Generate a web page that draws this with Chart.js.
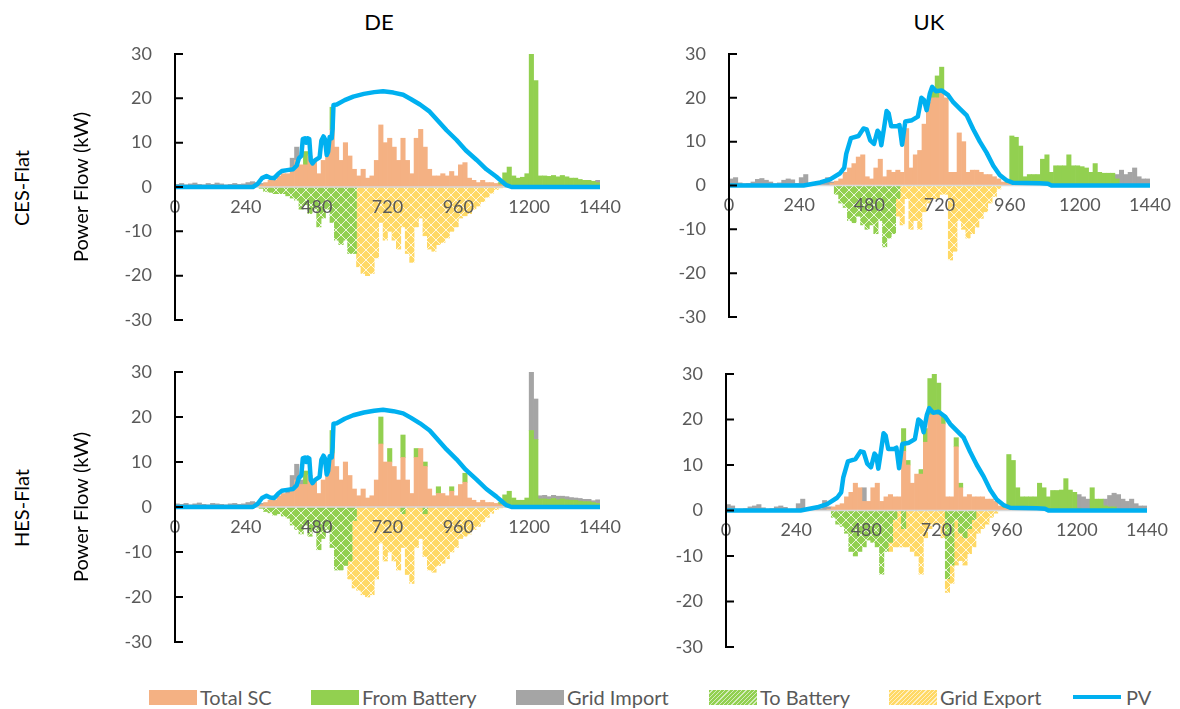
<!DOCTYPE html>
<html>
<head>
<meta charset="utf-8">
<script src="https://cdn.jsdelivr.net/npm/chart.js@4.4.1/dist/chart.umd.min.js"></script>
<style>
  body { margin: 0; background: #fff; width: 1180px; height: 709px; position: relative; overflow: hidden; font-family: Lato, 'Open Sans', sans-serif; }
  canvas { position: absolute; }
  .col-title { position: absolute; top: 10px; font-size: 22px; line-height: 24px; color: #000; transform: translateX(-50%); }
  .row-title { position: absolute; font-size: 20px; color: #000; white-space: nowrap; transform: translate(-50%, -50%) rotate(-90deg); }
  .item { position: absolute; top: 686px; height: 22px; display: flex; align-items: center; font-size: 20px; color: #595959; white-space: nowrap; }
  .sw { width: 48px; height: 15px; margin-right: 3px; }
  .sw.line { height: 4px; background: #00B0F0; margin-right: 5px; }
</style>
</head>
<body>

<div class="col-title" style="left:379px">DE</div>
<div class="col-title" style="left:929px">UK</div>
<div class="row-title" style="left:21px; top:188px">CES-Flat</div>
<div class="row-title" style="left:21px; top:508px">HES-Flat</div>

<canvas id="deCes" width="564" height="294" style="left:66px; top:40px"></canvas>
<canvas id="ukCes" width="511" height="291" style="left:669px; top:40px"></canvas>
<canvas id="deHes" width="564" height="298" style="left:66px; top:358px"></canvas>
<canvas id="ukHes" width="511" height="301" style="left:666px; top:360px"></canvas>

<div class="item" style="left:149px"><div class="sw" style="background:#F4B183"></div>Total SC</div>
<div class="item" style="left:311px"><div class="sw" style="background:#92D050"></div>From Battery</div>
<div class="item" style="left:516px"><div class="sw" style="background:#A5A5A5"></div>Grid Import</div>
<div class="item" style="left:709px"><div class="sw" style="background:repeating-linear-gradient(135deg,#92D050 0 2px,#d4ecbc 2px 3px)"></div>To Battery</div>
<div class="item" style="left:889px"><div class="sw" style="background:repeating-linear-gradient(135deg,#FFD966 0 2px,#fff0c4 2px 3px)"></div>Grid Export</div>
<div class="item" style="left:1073px"><div class="sw line"></div>PV</div>

<script>
// ---- axes ----
const xTicks = [0, 240, 480, 720, 960, 1200, 1440];
const yTicks = [-30, -20, -10, 0, 10, 20, 30];
const BIN = 15; // minutes per bar

// ---- PV (minute, kW) ----
const pvDeMin = [0, 264, 280, 295, 310, 322, 336, 350, 362, 380, 400, 412, 420, 428, 433, 440, 445, 449, 455, 460, 466, 474, 490, 496, 503, 508, 514, 519, 524, 531, 534, 537, 548, 575, 604, 640, 675, 705, 740, 773, 800, 830, 863, 890, 920, 954, 985, 1022, 1055, 1089, 1110, 1123, 1140, 1440];
const pvDeVal = [0, 0, 0.7, 2, 2.5, 2.1, 2, 3, 3.6, 3.8, 4, 4.8, 6.5, 7, 10.8, 11, 10, 11, 10.8, 6, 5.3, 6, 6.7, 10.5, 11.4, 10.8, 7.2, 8, 11.3, 11, 13.2, 18.5, 18.6, 19.6, 20.4, 21, 21.4, 21.6, 21.3, 20.8, 19.8, 18.6, 17, 15, 12.8, 10.6, 8.3, 6.1, 4, 2.3, 1.1, 0.4, 0, 0];
const pvUkMin = [0, 255, 312, 346, 380, 394, 401, 417, 443, 460, 471, 483, 496, 508, 514, 521, 530, 539, 546, 555, 574, 583, 592, 603, 626, 646, 658, 667, 676, 687, 695, 708, 727, 750, 767, 790, 813, 835, 858, 881, 904, 926, 949, 972, 1063, 1091, 1103, 1440];
const pvUkVal = [0, 0, 0.7, 1.4, 2.8, 4, 7.2, 10.8, 11.3, 13, 12.8, 10.3, 9.5, 12.5, 12, 9.2, 13, 17, 16.5, 13.5, 13.5, 13.8, 9.3, 14.6, 14.9, 15.7, 20, 19.5, 17.2, 21, 22.5, 21.5, 21.7, 20.6, 19, 17.5, 16, 12.9, 10, 7.5, 4.5, 2.4, 1.2, 0.6, 0.5, 0.4, 0, 0];

// ---- DE, CES-Flat (15-min bars, kW) ----
const deCesSC = [
  0,0,0,0,0,0,0,0,0,0,0,0,
  0,0,0,0,0,0,0,0.5,1,1.5,1.5,2.5,
  3,3,4.5,6,5,5,7,6,3,6,8,13,
  9,6,10,7,4,2.5,4,2,2.5,6,14,10,
  11,9,6,11,6,3,11,13,9,4,2.5,2.5,
  3,2.5,3.5,2.5,5,5.5,2,1.5,1,1.5,1,1,
  0.8,0.5,0.2,0,0,0,0,0,0,0,0,0,
  0,0,0,0,0,0,0,0,0,0,0,0];
const deCesBat = [
  0,0,0,0,0,0,0,0,0,0,0,0,
  0,0,0,0,0,0,0,0,0,0,0,0,
  0,0,0,0,0,3,0,0,0,0,0,5,
  0,0,0,0,0,0,0,0,0,0,0,0,
  0,0,0,0,0,0,0,0,0,0,0,0,
  0,0,0,0,0,0,0,0,0,0,0,0,
  0,0.5,3,4.5,2.5,2,2.2,3,30,24,2.5,2.5,
  2.4,2.6,2.3,2.6,2.3,2,2,1.7,1.5,1.5,1.3,1];
const deCesImp = [
  0.6,0.8,0.5,0.7,0.9,0.6,0.5,0.8,0.6,0.9,0.7,0.5,
  0.6,0.8,0.6,0.7,1,1.2,1,0.3,0,0,0,0,
  0,0,2,3,0,0,0,0,0,0,0,0,
  0,0,0,0,0,0,0,0,0,0,0,0,
  0,0,0,0,0,0,0,0,0,0,0,0,
  0,0,0,0,0,0,0,0,0,0,0,0,
  0,0,0,0,0,0,0,0,0,0,0,0,
  0,0,0,0,0,0,0,0,0,0,0,0.5];
const deCesToBat = [
  0,0,0,0,0,0,0,0,0,0,0,0,
  0,0,0,0,0,0,0,-0.3,-1,-1.2,-1.5,-1.5,
  -1.5,-2,-2.5,-3,-5,-4,-6,-5,-9,-7,-5,-8,
  -12,-13,-12,-15,-15,0,0,0,0,0,0,0,
  0,0,0,0,0,0,0,0,0,0,0,0,
  0,0,0,0,0,0,0,0,0,0,0,0,
  0,0,0,0,0,0,0,0,0,0,0,0,
  0,0,0,0,0,0,0,0,0,0,0,0];
const deCesExp = [
  0,0,0,0,0,0,0,0,0,0,0,0,
  0,0,0,0,0,0,0,0,0,0,0,0,
  0,0,0,0,0,0,0,0,0,0,0,0,
  0,0,0,0,0,-18,-19.5,-20,-19.5,-16,-8,-12,
  -10,-12,-14,-9,-15,-17,-9,-7,-11,-14,-14.5,-13,
  -12.5,-11.5,-10,-9,-7,-6.5,-6,-5,-4.3,-3.3,-2.3,-1.4,
  -0.6,-0.2,0,0,0,0,0,0,0,0,0,0,
  0,0,0,0,0,0,0,0,0,0,0,0];

// ---- DE, HES-Flat ----
const deHesSC = [
  0,0,0,0,0,0,0,0,0,0,0,0,
  0,0,0,0,0,0,0,0.5,1,1.5,1.5,2.5,
  3,3,4,6,5,5,7,6,3,6,8,12,
  9,6,10,7,4,2.5,4,2,2.5,6,14,10,
  10,9,6,11,6,3,11,13,9,4,2.5,3,
  3,2.5,3.5,2.5,5,5.5,2,1.5,1,1.5,1,1,
  0.8,0.5,0.2,0,0,0,0,0,0,0,0,0,
  0,0,0,0,0,0,0,0,0,0,0,0];
const deHesBat = [
  0,0,0,0,0,0,0,0,0,0,0,0,
  0,0,0,0,0,0,0,0,0,0,0,0,
  0,0,0,0,0,3,0,0,0,0,0,5,
  0,0,0,0,0,0,0,0,0,0,6,0,
  3,0,0,5,0,0,2,0,1,0,0,1.5,
  0,0,1,0,0,2,0,0,0,0,0,0,
  0,0.5,2.5,3.5,2,1.5,1.5,2,17,15,1.8,1.8,
  1.7,1.9,1.6,1.8,1.6,1.5,1.5,1.3,1.2,1.2,1,0.8];
const deHesImp = [
  0.7,0.6,0.8,0.5,0.7,0.9,0.6,0.5,0.8,0.7,0.6,0.5,
  0.7,0.8,0.6,0.7,1,1.2,1,0.3,0,0,0,0,
  0,1,3,3.5,1,0,0,0,0,0,0,0,
  0,0,0,0,0,0,0,0,0,0,0,0,
  0,0,0,0,0,0,0,0,0,0,0,0,
  0,0,0,0,0,0,0,0,0,0,0,0,
  0,0,0,0,0,0,0,0,13,9,0.7,0.8,
  0.6,0.7,0.8,0.6,0.7,0.6,0.5,0.6,0.5,0.5,0.4,0.8];
const deHesToBat = [
  0,0,0,0,0,0,0,0,0,0,0,0,
  0,0,0,0,0,0,0,-0.3,-1,-1.3,-1.8,-1.5,
  -2,-2.5,-4,-5,-6,-4,-6.5,-5,-9.5,-7,-5,-9,
  -14,-14,-13,-12,-3,0,0,0,0,0,0,0,
  0,0,0,-1.5,0,0,0,0,-1.5,0,0,0,
  0,0,0,0,0,0,0,0,0,0,0,0,
  0,0,0,0,0,0,0,0,0,0,0,0,
  0,0,0,0,0,0,0,0,0,0,0,0];
const deHesExp = [
  0,0,0,0,0,0,0,0,0,0,0,0,
  0,0,0,0,0,0,0,0,0,0,0,0,
  0,0,0,0,0,0,0,0,0,0,0,0,
  0,0,0,-4,-15,-18.5,-19.5,-20,-19.5,-16,-8,-12,
  -10,-12,-14,-7.5,-15,-17,-9,-7,-9.5,-14,-14.5,-13,
  -12.5,-11.5,-10,-9,-7,-6.5,-6,-5,-4.3,-3.3,-2.3,-1.4,
  -0.6,-0.2,0,0,0,0,0,0,0,0,0,0,
  0,0,0,0,0,0,0,0,0,0,0,0];

// ---- UK, CES-Flat ----
const ukCesSC = [
  0,0,0,0,0,0,0,0,0,0,0,0,
  0,0,0,0,0,0,0,0,0,0,0,0.5,
  1,1.5,3,4,5,6.5,7,2,1.5,4,6,2,
  3.5,3,3.5,3,13,4,7,8,14,19,20,20,
  21,20,3,3,12,10,3,3.5,3.5,3,2.5,2.5,
  2,1.5,0.8,0.5,0.3,0,0,0,0,0,0,0,
  0,0,0,0,0,0,0,0,0,0,0,0,
  0,0,0,0,0,0,0,0,0,0,0,0];
const ukCesBat = [
  0,0,0,0,0,0,0,0,0,0,0,0,
  0,0,0,0,0,0,0,0,0,0,0,0,
  0,0,0,0,0,0,0,0,0,0,0,0,
  0,0,0,0,0,0,0,0,0,0,2,5,
  6,0,0,0,0,0,0,0,0,0,0,0,
  0,0,0,0.5,11,11,9,2,2.5,2.5,2.5,6,
  7,3,4.5,4.5,4.5,7,4.5,4.5,4.3,4,3,5,
  3,2.8,2.8,2.8,1.5,0,0,0,0,0,0,0];
const ukCesImp = [
  1.5,1.8,0.6,0.4,0.5,0.8,1.4,1.6,1.2,0.8,0.4,0.6,
  1.2,1.5,1.3,0.5,1.8,2.5,0.5,0.4,0.5,0.6,1.8,0.3,
  0,0,0,0,0,0,0,0,0,0,0,0,
  0,0,0,0,0,0,0,0,0,0,0,0,
  0,0,0,0,0,0,0,0,0,0,0,0,
  0,0,0,0,0,0,0,0,0,0,0,0,
  0,0,0,0,0,0,0,0,0,0,0,0,
  0,0,0,0,1,3.5,2.5,3,4,2,1.5,1.5];
const ukCesToBat = [
  0,0,0,0,0,0,0,0,0,0,0,0,
  0,0,0,0,0,0,0,0,0,0,0,0,
  -2,-4,-5,-8,-8.5,-7,-9,-10,-9,-11,-8,-14,
  -12,-11,-3,0,0,0,0,0,0,0,0,0,
  0,0,0,0,0,0,0,0,0,0,0,0,
  0,0,0,0,0,0,0,0,0,0,0,0,
  0,0,0,0,0,0,0,0,0,0,0,0,
  0,0,0,0,0,0,0,0,0,0,0,0];
const ukCesExp = [
  0,0,0,0,0,0,0,0,0,0,0,0,
  0,0,0,0,0,0,0,0,0,0,0,0,
  0,0,0,0,0,0,0,0,0,0,0,0,
  0,0,-4,-9,-3,-10,-8,-10,-6,-4,-3,-3,
  -2,-2,-17,-15,-8,-10,-12,-11,-9.5,-7.5,-6,-4,
  -2.5,-0.8,0,0,0,0,0,0,0,0,0,0,
  0,0,0,0,0,0,0,0,0,0,0,0,
  0,0,0,0,0,0,0,0,0,0,0,0];

// ---- UK, HES-Flat ----
const ukHesSC = [
  0,0,0,0,0,0,0,0,0,0,0,0,
  0,0,0,0,0,0,0,0,0,0,0,0.3,
  0.8,1.2,1.5,3,4,6,5,2,2,5,6,2,
  3,3.5,3,3,13,10,6,8,8,15,21,22,
  21,19,3,3,14,5,3,3.5,3,3,3,2.5,
  2.5,2,1,0.5,0.3,0,0,0,0,0,0,0,
  0,0,0,0,0,0,0,0,0,0,0,0,
  0,0,0,0,0,0,0,0,0,0,0,0];
const ukHesBat = [
  0,0,0,0,0,0,0,0,0,0,0,0,
  0,0,0,0,0,0,0,0,0,0,0,0,
  0,0,0,0,0,0,0,0,0,0,0,0,
  0,0,0,0,5,1,0,0,1,3,8,8,
  7,2,0,0,2,1,0,0,0,0,0,0,
  0,0,0,0.5,12,11,5,3,3,3,3,6,
  5,3,4.4,4.4,4.5,7,4.5,4,0.5,0,0,5,
  2.5,2.5,1,0.8,0.8,0,0,0,0,0,0,0];
const ukHesImp = [
  1.3,1,0.3,0.3,0.4,0.8,1,1.3,0.6,0.3,0.4,0.8,
  1,0.7,0.3,0.3,1.5,2.5,0.4,0.3,0.4,0.4,2.2,0.5,
  0,0,0,0,0,0,0,3,0,0,0,0,
  0,0,0,0,0,0,0,0,0,0,0,0,
  0,0,0,0,0,0,0,0,0,0,0,0,
  0,0,0,0,0,0,0,0,0,0,0,0,
  0,0,0,0,0,0,0,0,3,3,2.5,0,
  0,0,1.5,2.5,3,3.5,2.5,2,2.5,1.5,1,1];
const ukHesToBat = [
  0,0,0,0,0,0,0,0,0,0,0,0,
  0,0,0,0,0,0,0,0,0,0,0,0,
  -1.5,-3,-3.5,-5,-9,-10,-9,-8,-6.5,-7,-8,-14,
  -9,-7,-2,0,-4,0,0,0,0,0,0,0,
  0,0,-15,-12,-2,-5,-6,-4,-2,0,0,0,
  0,0,0,0,0,0,0,0,0,0,0,0,
  0,0,0,0,0,0,0,0,0,0,0,0,
  0,0,0,0,0,0,0,0,0,0,0,0];
const ukHesExp = [
  0,0,0,0,0,0,0,0,0,0,0,0,
  0,0,0,0,0,0,0,0,0,0,0,0,
  0,0,0,0,0,0,0,0,0,0,0,0,
  0,-2,-6,-8,-4,-8,-9,-10,-14,-6,-4,-3,
  -3,-6,-3,-4,-10,-6,-6,-5.5,-6,-5,-4,-3,
  -1.5,-0.6,0,0,0,0,0,0,0,0,0,0,
  0,0,0,0,0,0,0,0,0,0,0,0,
  0,0,0,0,0,0,0,0,0,0,0,0];

// ═══════════ PATTERNS ═══════════
function makeHatch(base) {
  const c = document.createElement('canvas');
  c.width = 10; c.height = 10;
  const g = c.getContext('2d');
  g.fillStyle = base;
  g.fillRect(0, 0, 10, 10);
  g.strokeStyle = 'rgba(255,255,255,0.8)';
  g.lineWidth = 1;
  g.beginPath();
  g.moveTo(-2, -2); g.lineTo(12, 12);
  g.moveTo(12, -2); g.lineTo(-2, 12);
  g.stroke();
  return g.createPattern(c, 'repeat');
}
const hatchGreen = makeHatch('#92D050');
const hatchYellow = makeHatch('#FFD966');

// zero line under the PV curve, y axis with inside tick marks on top
const axisMarks = {
  id: 'axisMarks',
  beforeDatasetDraw(chart, args) {
    if (args.meta.type !== 'line') return;
    const { ctx, chartArea, scales } = chart;
    const y0 = scales.y.getPixelForValue(0);
    ctx.save();
    ctx.strokeStyle = '#D9D9D9';
    ctx.lineWidth = 1.5;
    ctx.beginPath();
    ctx.moveTo(chartArea.left, y0);
    ctx.lineTo(chartArea.right, y0);
    ctx.stroke();
    ctx.restore();
  },
  afterDraw(chart) {
    const { ctx, scales } = chart;
    const x = chart.chartArea.left;
    ctx.save();
    ctx.strokeStyle = '#000';
    ctx.lineWidth = 2;
    ctx.beginPath();
    ctx.moveTo(x, scales.y.getPixelForValue(yTicks[yTicks.length - 1]) - 1);
    ctx.lineTo(x, scales.y.getPixelForValue(yTicks[0]) + 1);
    yTicks.forEach(v => {
      const py = scales.y.getPixelForValue(v);
      ctx.moveTo(x, py);
      ctx.lineTo(x + 8, py);
    });
    ctx.stroke();
    ctx.restore();
  }
};

const tickFont = { family: 'Lato', size: 18 };

function buildPanel(id, sc, bat, imp, toBat, exp, pvMin, pvVal, yWidth, yTitle) {
  const bars = arr => arr.map((v, i) => ({ x: i * BIN + BIN / 2, y: v === 0 ? null : v }));
  const barStyle = { stack: 'flow', order: 1, barPercentage: 1, categoryPercentage: 1, borderWidth: 0 };
  return new Chart(document.getElementById(id), {
    type: 'bar',
    data: {
      datasets: [
        { label: 'Total SC', data: bars(sc), backgroundColor: '#F4B183', ...barStyle },
        { label: 'From Battery', data: bars(bat), backgroundColor: '#92D050', ...barStyle },
        { label: 'Grid Import', data: bars(imp), backgroundColor: '#A5A5A5', ...barStyle },
        { label: 'To Battery', data: bars(toBat), backgroundColor: hatchGreen, ...barStyle },
        { label: 'Grid Export', data: bars(exp), backgroundColor: hatchYellow, ...barStyle },
        {
          type: 'line', label: 'PV', stack: 'pv', order: 0,
          data: pvMin.map((m, i) => ({ x: m, y: pvVal[i] })),
          borderColor: '#00B0F0', borderWidth: 4.5, pointRadius: 0, tension: 0,
          borderJoinStyle: 'round', borderCapStyle: 'round', fill: false
        }
      ]
    },
    options: {
      responsive: false,
      animation: false,
      layout: { padding: { top: 14, bottom: 14, left: 0, right: 30 } },
      plugins: { legend: { display: false }, tooltip: { enabled: false } },
      scales: {
        x: {
          type: 'linear', min: 0, max: 1440, offset: false, stacked: true,
          position: { y: 0 },
          grid: { display: false, drawTicks: false },
          border: { display: false },
          afterBuildTicks: s => { s.ticks = xTicks.map(v => ({ value: v })); },
          afterFit: s => { s.paddingLeft = 0; s.paddingRight = 0; },
          ticks: { z: 1, autoSkip: false, maxRotation: 0, padding: 9, color: '#595959', font: tickFont, callback: v => String(v) }
        },
        y: {
          type: 'linear', min: yTicks[0], max: yTicks[yTicks.length - 1], offset: false, stacked: true,
          grid: { display: false, drawTicks: false },
          border: { display: false },
          afterBuildTicks: s => { s.ticks = yTicks.map(v => ({ value: v })); },
          // keep the plot box fixed: label padding must not shrink it
          afterFit: s => { s.width = yWidth; s.paddingTop = 0; s.paddingBottom = 0; },
          ticks: { padding: 23, color: '#595959', font: tickFont, callback: v => String(v) },
          title: {
            display: !!yTitle, text: yTitle || '', color: '#000',
            font: { family: 'Lato', size: 20 }, padding: { top: 4, bottom: 4 }
          }
        }
      }
    },
    plugins: [axisMarks]
  });
}

buildPanel('deCes', deCesSC, deCesBat, deCesImp, deCesToBat, deCesExp, pvDeMin, pvDeVal, 109, 'Power Flow (kW)');
buildPanel('ukCes', ukCesSC, ukCesBat, ukCesImp, ukCesToBat, ukCesExp, pvUkMin, pvUkVal, 60, null);
buildPanel('deHes', deHesSC, deHesBat, deHesImp, deHesToBat, deHesExp, pvDeMin, pvDeVal, 109, 'Power Flow (kW)');
buildPanel('ukHes', ukHesSC, ukHesBat, ukHesImp, ukHesToBat, ukHesExp, pvUkMin, pvUkVal, 60, null);
</script>
</body>
</html>
